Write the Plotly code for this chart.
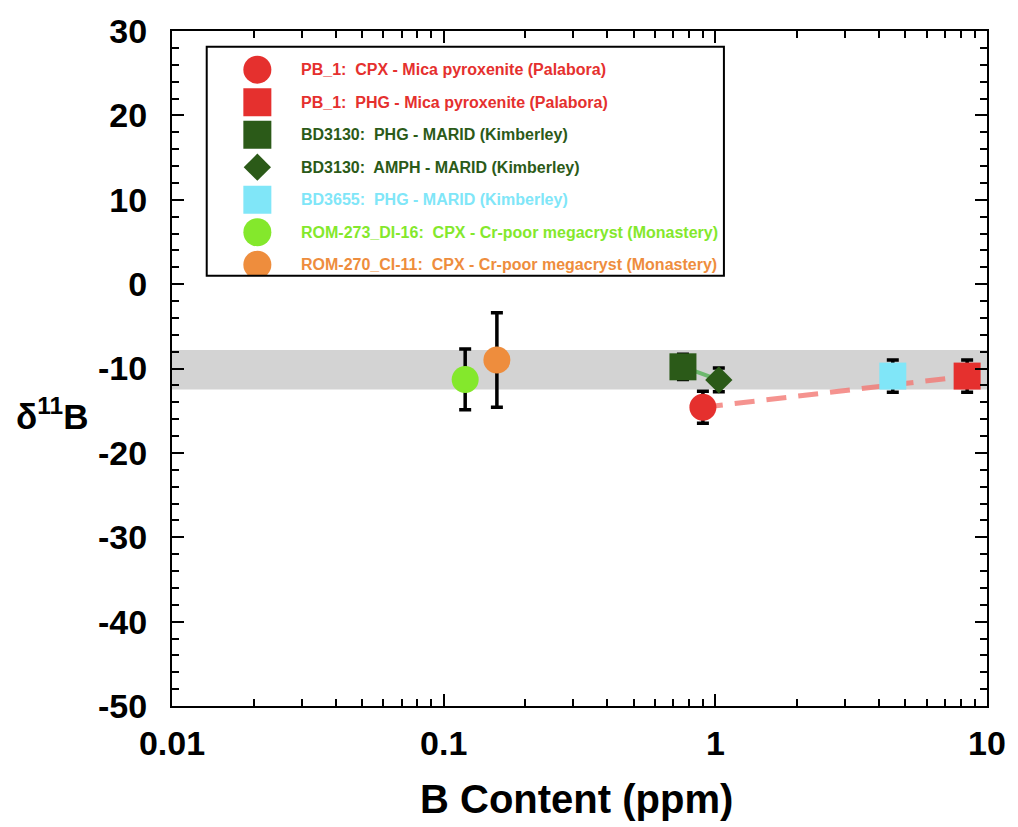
import plotly.graph_objects as go

# ---------------- data ----------------
labels = [
    "PB_1:\u00a0 CPX - Mica pyroxenite (Palabora)",
    "PB_1:\u00a0 PHG - Mica pyroxenite (Palabora)",
    "BD3130:\u00a0 PHG - MARID (Kimberley)",
    "BD3130:\u00a0 AMPH - MARID (Kimberley)",
    "BD3655:\u00a0 PHG - MARID (Kimberley)",
    "ROM-273_DI-16:\u00a0 CPX - Cr-poor megacryst (Monastery)",
    "ROM-270_CI-11:\u00a0 CPX - Cr-poor megacryst (Monastery)",
]
colors = ["#E5302E", "#E5302E", "#2B5A18", "#2B5A18", "#80E6F8", "#84E82C", "#EE8D3D"]
symbols = ["circle", "square", "square", "diamond", "square", "circle", "circle"]
b_ppm = [0.90, 8.45, 0.76, 1.03, 4.5, 0.12, 0.157]
d11b = [-14.6, -10.9, -9.8, -11.35, -10.9, -11.3, -9.0]
d11b_err = [1.9, 1.9, 1.5, 1.4, 1.9, 3.6, 5.6]
band_range = [-12.5, -7.8]

x_ticks = [0.01, 0.1, 1, 10]
x_ticklabels = ["0.01", "0.1", "1", "10"]
x_minor = [m * d for d in (0.01, 0.1, 1) for m in range(2, 10)]
y_ticks = [-50, -40, -30, -20, -10, 0, 10, 20, 30]
y_ticklabels = ["-50", "-40", "-30", "-20", "-10", "0", "10", "20", "30"]

FONT = "Liberation Sans, Arial, Helvetica, sans-serif"

fig = go.Figure()

# connecting lines (drawn first, behind markers)
fig.add_trace(go.Scatter(
    x=[b_ppm[0], b_ppm[1]], y=[d11b[0], d11b[1]], mode="lines",
    line=dict(color="rgba(242,120,115,0.8)", width=5, dash="20px,12px"),
    showlegend=False, hoverinfo="skip"))
fig.add_trace(go.Scatter(
    x=[b_ppm[2], b_ppm[3]], y=[d11b[2], d11b[3]], mode="lines",
    line=dict(color="#6DB86D", width=4),
    showlegend=False, hoverinfo="skip"))

# data points
for i in range(len(labels)):
    size = 21 if symbols[i] == "diamond" else 27
    fig.add_trace(go.Scatter(
        x=[b_ppm[i]], y=[d11b[i]], mode="markers",
        marker=dict(color=colors[i], symbol=symbols[i], size=size, line=dict(width=0)),
        error_y=dict(type="data", array=[d11b_err[i]], color="black", thickness=3.5, width=6),
        showlegend=False, name=labels[i]))

# manual legend (inset axes)
rows = list(range(len(labels)))
for i in rows:
    size = 21 if symbols[i] == "diamond" else 28
    fig.add_trace(go.Scatter(
        x=[51], y=[rows[i]], xaxis="x2", yaxis="y2", mode="markers",
        marker=dict(color=colors[i], symbol=symbols[i], size=size, line=dict(width=0)),
        showlegend=False, hoverinfo="skip"))

annotations = []
for i in rows:
    annotations.append(dict(
        x=93, y=rows[i], xref="x2", yref="y2", xanchor="left", yanchor="middle",
        text=labels[i], showarrow=False,
        font=dict(family=FONT, size=16, color=colors[i], weight="bold")))

# axis titles
annotations.append(dict(
    x=0.496, y=-0.138, xref="paper", yref="paper", xanchor="center", yanchor="middle",
    text="B Content (ppm)", showarrow=False,
    font=dict(family=FONT, size=40, color="black", weight="bold")))
annotations.append(dict(
    x=-0.147, y=0.432, xref="paper", yref="paper", xanchor="center", yanchor="middle",
    text="δ<sup>11</sup>B", showarrow=False,
    font=dict(family=FONT, size=35, color="black", weight="bold")))

LEG_X = [0.0426, 0.6772]
LEG_Y = [0.6373, 0.9765]

fig.update_layout(
    width=1018, height=827,
    margin=dict(l=172, r=25, t=25, b=121),
    paper_bgcolor="white", plot_bgcolor="white",
    font=dict(family=FONT, color="black"),
    annotations=annotations,
    shapes=[
        dict(type="rect", xref="paper", x0=0, x1=1, yref="y",
             y0=band_range[0], y1=band_range[1],
             fillcolor="#D3D3D3", line=dict(width=0), layer="below"),
        dict(type="rect", xref="paper", yref="paper",
             x0=LEG_X[0], x1=LEG_X[1], y0=LEG_Y[0], y1=LEG_Y[1],
             line=dict(color="black", width=2), fillcolor="rgba(0,0,0,0)"),
    ],
    xaxis=dict(
        type="log", range=[-2, 1],
        tickvals=x_ticks, ticktext=x_ticklabels,
        ticks="inside", ticklen=12, tickwidth=1.5, tickcolor="black",
        showline=True, linecolor="black", linewidth=2, mirror="allticks",
        showgrid=False, zeroline=False,
        tickfont=dict(family=FONT, size=34, color="black", weight="bold"),
        ticklabelstandoff=6,
        minor=dict(tickvals=x_minor, ticks="inside", ticklen=7, tickwidth=1.5,
                   tickcolor="black", showgrid=False),
    ),
    yaxis=dict(
        range=[-50, 30], tickvals=y_ticks, ticktext=y_ticklabels,
        ticks="inside", ticklen=12, tickwidth=1.5, tickcolor="black",
        showline=True, linecolor="black", linewidth=2, mirror="allticks",
        showgrid=False, zeroline=False,
        tickfont=dict(family=FONT, size=34, color="black", weight="bold"),
        ticklabelstandoff=16,
        minor=dict(dtick=2, ticks="inside", ticklen=7, tickwidth=1.5,
                   tickcolor="black", showgrid=False),
    ),
    xaxis2=dict(domain=LEG_X, range=[0, 521], visible=False, fixedrange=True),
    yaxis2=dict(domain=LEG_Y, range=[6.34, -0.70], visible=False, fixedrange=True),
)

fig.write_html("out.html")
